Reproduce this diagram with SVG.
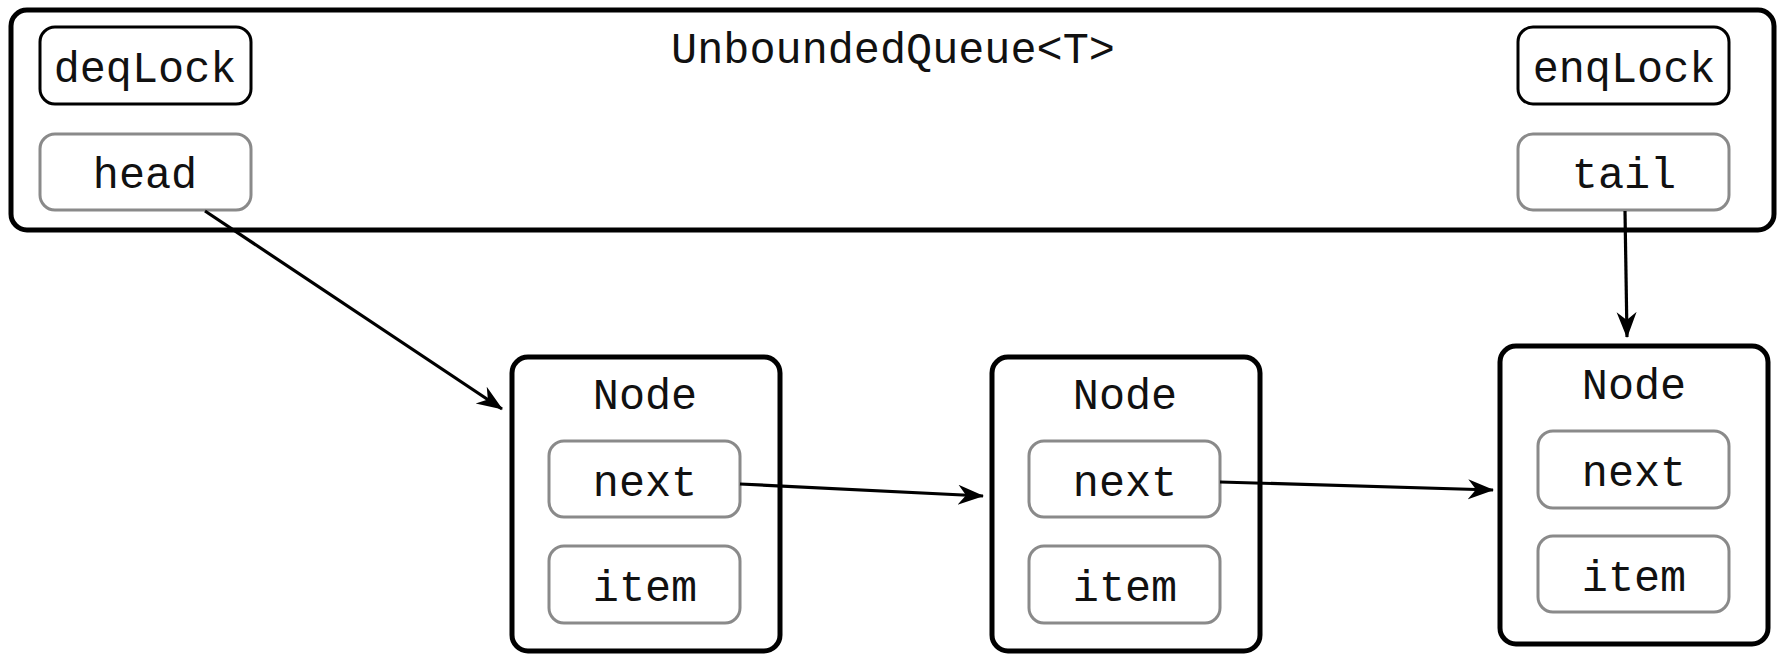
<svg xmlns="http://www.w3.org/2000/svg" width="1778" height="654" viewBox="0 0 1778 654">
  <style>
    .frame { fill: #ffffff; stroke: #000000; stroke-width: 5; }
    .lock { fill: #ffffff; stroke: #000000; stroke-width: 3; }
    .field { fill: #ffffff; stroke: #8a8a8a; stroke-width: 3; }
    .lbl { font-family: "Liberation Mono", "Courier New", monospace; font-size: 43.5px; fill: #111111; text-anchor: middle; }
    .edge { fill: none; stroke: #000000; stroke-width: 3.2; marker-end: url(#arrow); }
  </style>
  <defs>
    <marker id="arrow" viewBox="0 0 26 22" refX="25" refY="11" markerWidth="26" markerHeight="22" markerUnits="userSpaceOnUse" orient="auto">
      <path d="M0,1 L26,11 L0,21 L8,11 Z" fill="#000000"/>
    </marker>
  </defs>

  <!-- queue object -->
  <g id="queue">
    <rect class="frame" x="11" y="10" width="1763" height="220" rx="16" ry="16"/>
    <text class="lbl" x="893" y="63">UnboundedQueue&lt;T&gt;</text>
  </g>
  <g id="deqLock">
    <rect class="lock" x="40" y="27" width="211" height="77" rx="15" ry="15"/>
    <text class="lbl" x="145" y="82">deqLock</text>
  </g>
  <g id="head">
    <rect class="field" x="40" y="134" width="211" height="76" rx="15" ry="15"/>
    <text class="lbl" x="145" y="188">head</text>
  </g>
  <g id="enqLock">
    <rect class="lock" x="1518" y="27" width="211" height="77" rx="15" ry="15"/>
    <text class="lbl" x="1624" y="82">enqLock</text>
  </g>
  <g id="tail">
    <rect class="field" x="1518" y="134" width="211" height="76" rx="15" ry="15"/>
    <text class="lbl" x="1624" y="188">tail</text>
  </g>

  <!-- list nodes -->
  <g id="node1">
    <rect class="frame" x="512" y="357" width="268" height="294" rx="16" ry="16"/>
    <text class="lbl" x="645" y="409">Node</text>
    <rect class="field" x="549" y="441" width="191" height="76" rx="15" ry="15"/>
    <text class="lbl" x="645" y="496">next</text>
    <rect class="field" x="549" y="546" width="191" height="77" rx="15" ry="15"/>
    <text class="lbl" x="645" y="601">item</text>
  </g>
  <g id="node2">
    <rect class="frame" x="992" y="357" width="268" height="294" rx="16" ry="16"/>
    <text class="lbl" x="1125" y="409">Node</text>
    <rect class="field" x="1029" y="441" width="191" height="76" rx="15" ry="15"/>
    <text class="lbl" x="1125" y="496">next</text>
    <rect class="field" x="1029" y="546" width="191" height="77" rx="15" ry="15"/>
    <text class="lbl" x="1125" y="601">item</text>
  </g>
  <g id="node3">
    <rect class="frame" x="1500" y="346" width="268" height="298" rx="16" ry="16"/>
    <text class="lbl" x="1634" y="399">Node</text>
    <rect class="field" x="1538" y="431" width="191" height="77" rx="15" ry="15"/>
    <text class="lbl" x="1634" y="486">next</text>
    <rect class="field" x="1538" y="536" width="191" height="76" rx="15" ry="15"/>
    <text class="lbl" x="1634" y="591">item</text>
  </g>

  <!-- pointers -->
  <g id="connectors">
    <path class="edge" d="M205,211 L502,409"/>
    <path class="edge" d="M1625,211 L1627,337"/>
    <path class="edge" d="M740,484 L983,496"/>
    <path class="edge" d="M1220,482 L1493,490"/>
  </g>
</svg>
